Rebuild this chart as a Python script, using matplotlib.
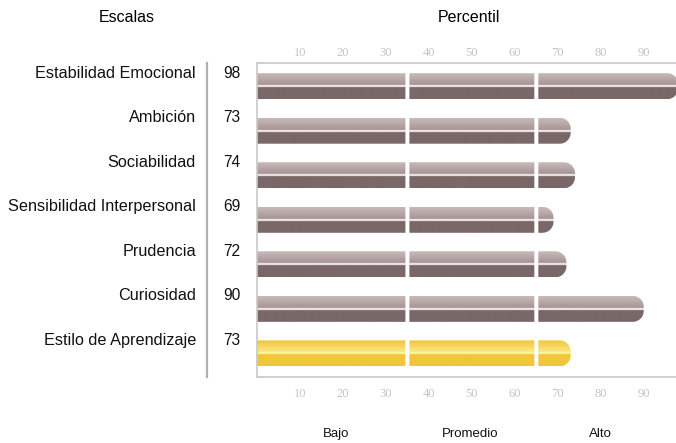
import numpy as np
import matplotlib.pyplot as plt
from matplotlib.path import Path
from matplotlib.patches import PathPatch
from matplotlib.lines import Line2D
import matplotlib.transforms as mtransforms
from matplotlib.colors import to_rgb

escalas = ["Estabilidad Emocional", "Ambición", "Sociabilidad",
           "Sensibilidad Interpersonal", "Prudencia", "Curiosidad",
           "Estilo de Aprendizaje"]
percentil = [98, 73, 74, 69, 72, 90, 73]
resaltado = [False, False, False, False, False, False, True]
cortes = [35, 65]
ticks = [10, 20, 30, 40, 50, 60, 70, 80, 90]
rangos = ["Bajo", "Promedio", "Alto"]
rango_x = [18.5, 49.5, 80]

W, H = 676, 443
fig = plt.figure(figsize=(W / 100, H / 100), dpi=100)
fig.patch.set_facecolor("white")

# axes box in pixels: x 257..676, y 63..377
XMAX = 97.5
ax = fig.add_axes([257 / W, (H - 377) / H, 419 / W, 314 / H])
ax.set_xlim(0, XMAX)
ax.set_ylim(6.53, -0.52)
px_x = 419 / XMAX   # pixels per x unit
px_y = 314 / 7.05   # pixels per y unit

for s in ["top", "bottom", "left"]:
    ax.spines[s].set_color("#c8c8c8")
    ax.spines[s].set_linewidth(1.2)
ax.spines["right"].set_visible(False)
ax.set_yticks([])
tick_font = dict(family="Liberation Serif", fontsize=9, color="#c4c4c4")
ax.set_xticks(ticks)
ax.set_xticklabels([str(t) for t in ticks], **tick_font)
ax.tick_params(axis="x", length=0, pad=8)

top = ax.secondary_xaxis("top")
top.set_xticks(ticks)
top.set_xticklabels([str(t) for t in ticks], **tick_font)
top.tick_params(axis="x", length=0, pad=3)
top.spines["top"].set_visible(False)

half = 13 / px_y          # half bar height in data units
gap = 2.0 / px_x          # half white gap between ranges
rad_x = 11 / px_x
rad_y = 11 / px_y


def bar_path(y, value):
    """Segments of one bar with a rounded right end."""
    top_, bot = y - half, y + half
    edges = [0] + [c for c in cortes if c < value] + [value]
    polys = []
    for i in range(len(edges) - 1):
        x0 = edges[i] + (gap if i > 0 else 0)
        x1 = edges[i + 1] - (gap if i < len(edges) - 2 else 0)
        if i < len(edges) - 2:
            verts = [(x0, top_), (x1, top_), (x1, bot), (x0, bot), (x0, top_)]
        else:
            xr = x1 - rad_x
            t1 = np.linspace(-np.pi / 2, 0, 12)
            t2 = np.linspace(0, np.pi / 2, 12)
            c1 = [(xr + rad_x * np.cos(t), top_ + rad_y + rad_y * np.sin(t)) for t in t1]
            c2 = [(xr + rad_x * np.cos(t), bot - rad_y + rad_y * np.sin(t)) for t in t2]
            verts = [(x0, top_)] + c1 + c2 + [(x0, bot), (x0, top_)]
        polys.append(Path(verts, closed=False))
    return Path.make_compound_path(*polys)


def gradient(light, mid, dark, highlight=None):
    n = 52
    img = np.zeros((n, 1, 3))
    a, b, d = np.array(to_rgb(light)), np.array(to_rgb(mid)), np.array(to_rgb(dark))
    for i in range(n):
        f = i / (n - 1)
        if f < 0.47:
            t = f / 0.47
            img[i, 0] = a + (b - a) * t
        elif f < 0.53:
            img[i, 0] = to_rgb(highlight) if highlight else (1, 1, 1)
        else:
            img[i, 0] = d
    return img


grey = gradient("#c8baba", "#a69292", "#7a6767", highlight="#f4f0f0")
gold = gradient("#f2c437", "#fce98a", "#f1c63d", highlight="#fff59a")

for i, (v, hl) in enumerate(zip(percentil, resaltado)):
    img = gold if hl else grey
    im = ax.imshow(img, extent=[0, v, i + half, i - half], aspect="auto",
                   interpolation="bilinear", zorder=2)
    patch = PathPatch(bar_path(i, v), transform=ax.transData,
                      facecolor="none", edgecolor="none")
    ax.add_patch(patch)
    im.set_clip_path(patch)

# restore limits after imshow
ax.set_xlim(0, XMAX)
ax.set_ylim(6.53, -0.52)

lab = mtransforms.blended_transform_factory(fig.transFigure, ax.transData)
for i, (name, v) in enumerate(zip(escalas, percentil)):
    ax.text(196 / W, i - half, name, transform=lab, ha="right", va="center",
            family="Liberation Sans", fontsize=11.7, color="#111111")
    ax.text(232 / W, i - half, str(v), transform=lab, ha="center", va="center",
            family="Liberation Sans", fontsize=11.2, color="#111111")

fig.add_artist(Line2D([207 / W, 207 / W], [(H - 63) / H, (H - 377) / H],
                      color="#b0b0b0", lw=1.6))

fig.text(127 / W, 1 - 17 / H, "Escalas", ha="center", va="center",
         family="Liberation Sans", fontsize=11.5)
fig.text(469 / W, 1 - 17 / H, "Percentil", ha="center", va="center",
         family="Liberation Sans", fontsize=11.5)

bt = mtransforms.blended_transform_factory(ax.transData, fig.transFigure)
for name, x in zip(rangos, rango_x):
    ax.text(x, 1 - 434 / H, name, transform=bt, ha="center", va="center",
            family="Liberation Sans", fontsize=9.5, color="#111111")

fig.savefig("out.png", dpi=100)
